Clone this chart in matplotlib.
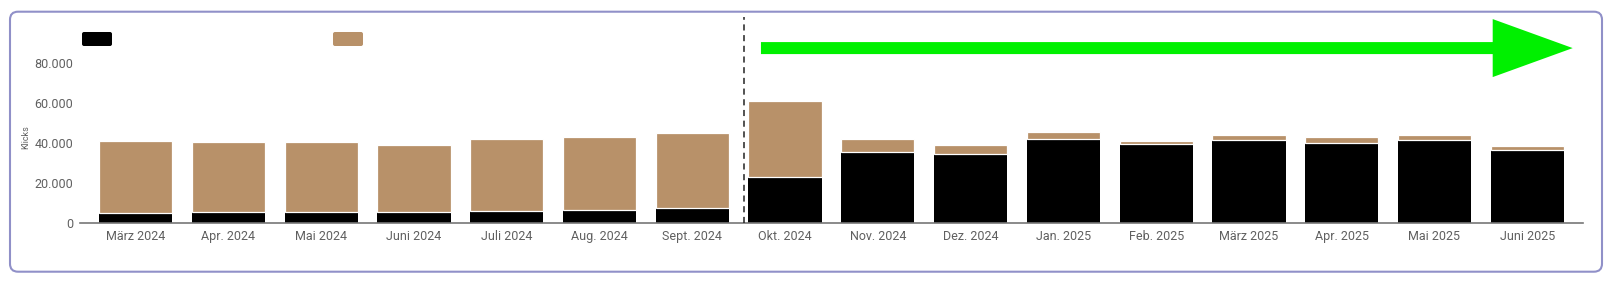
import numpy as np
import matplotlib
matplotlib.use('Agg')
import matplotlib.pyplot as plt
from matplotlib.patches import FancyBboxPatch, FancyArrowPatch, ArrowStyle
from matplotlib.ticker import FuncFormatter

# Daten
monate = ['März 2024', 'Apr. 2024', 'Mai 2024', 'Juni 2024', 'Juli 2024', 'Aug. 2024',
          'Sept. 2024', 'Okt. 2024', 'Nov. 2024', 'Dez. 2024', 'Jan. 2025', 'Feb. 2025',
          'März 2025', 'Apr. 2025', 'Mai 2025', 'Juni 2025']
klicks_schwarz = [5300, 5500, 5400, 5500, 6300, 6700, 7700, 23300,
                  35500, 34700, 42200, 39500, 41500, 40000, 41700, 36500]
klicks_braun = [35900, 35200, 35400, 33800, 35700, 36300, 37200, 38000,
                6500, 4500, 3500, 1800, 2500, 3000, 2300, 2300]
y_ticks = [0, 20000, 40000, 60000, 80000]

plt.rcParams['font.family'] = ['Roboto', 'DejaVu Sans']
grau = '#606060'
braun = '#b89169'

fig = plt.figure(figsize=(16.2, 2.84), dpi=100)
ax = fig.add_axes([0.0494, 0.2137, 0.9277, 0.7263])

x = np.arange(len(monate))
ax.bar(x, klicks_schwarz, width=0.79, color='black', zorder=2)
ax.bar(x, klicks_braun, bottom=klicks_schwarz, width=0.79, color=braun,
       edgecolor='white', linewidth=0.9, zorder=2)

ax.set_xlim(-0.6, 15.6)
ax.set_ylim(0, 103000)
ax.set_xticks(x)
ax.set_xticklabels(monate)
ax.set_yticks(y_ticks)
ax.yaxis.set_major_formatter(FuncFormatter(lambda v, p: f'{int(v):,}'.replace(',', '.')))
ax.tick_params(axis='both', length=0, labelsize=9, colors=grau)
ax.tick_params(axis='x', pad=5)
ax.tick_params(axis='y', pad=5)

for s in ['top', 'right', 'left']:
    ax.spines[s].set_visible(False)
ax.spines['bottom'].set_color('#777777')
ax.spines['bottom'].set_linewidth(1.2)

ax.set_ylabel('Klicks', fontsize=6.5, color=grau)
ax.yaxis.set_label_coords(-0.033, 0.42)

# gestrichelte Trennlinie zwischen Sept. und Okt.
ax.axvline(6.56, ymin=0, ymax=1, color='#222222', linestyle=(0, (4, 3)), linewidth=1.1, zorder=3)

# grüner Pfeil
pfeil = FancyArrowPatch((6.74, 87500), (15.49, 87500),
                        arrowstyle=ArrowStyle.Simple(head_length=80 * 0.72, head_width=58 * 0.72,
                                                     tail_width=12 * 0.72),
                        mutation_scale=1, shrinkA=0, shrinkB=0,
                        color='#00f000', linewidth=0, zorder=4, clip_on=False)
ax.add_patch(pfeil)

# Legenden-Kästchen (Beschriftung im Original ausgeblendet)
for x0, farbe in [(82, 'black'), (333, braun)]:
    fig.patches.append(FancyBboxPatch((x0 / 100, (284 - 46) / 100), 0.30, 0.14,
                                      boxstyle='round,pad=0,rounding_size=0.02',
                                      transform=fig.dpi_scale_trans, facecolor=farbe,
                                      edgecolor='none'))

# Rahmen
fig.patches.append(FancyBboxPatch((0.10, (284 - 271.7) / 100), 15.92, 2.60,
                                  boxstyle='round,pad=0,rounding_size=0.08',
                                  transform=fig.dpi_scale_trans, facecolor='none',
                                  edgecolor='#9090c8', linewidth=1.5, zorder=0))

fig.savefig('out.png', dpi=100)
